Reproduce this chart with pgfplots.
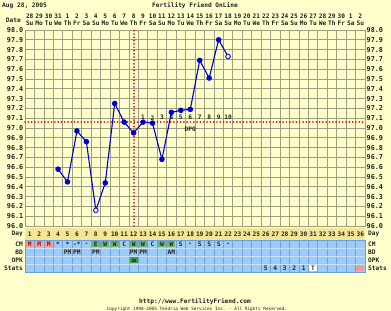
\documentclass[border=0pt]{standalone}
\usepackage{fontspec}
\usepackage{pgfplots}
\pgfplotsset{compat=1.18}
\newfontfamily\pix{DejaVu Sans Mono}
\newcommand\pixfont{\pix\bfseries\fontsize{6.2}{7}\selectfont}
\newcommand\ylfont{\pix\bfseries\fontsize{6.8}{8}\selectfont}
\newcommand\tinyfont{\pix\fontsize{4.4}{5}\selectfont}
\definecolor{bg}{HTML}{FFFFCC}
\definecolor{gridc}{HTML}{9E9E84}
\definecolor{dayrow}{HTML}{F5E596}
\definecolor{bandblue}{HTML}{9CCBF7}
\definecolor{bandgrid}{HTML}{6E9FD6}
\definecolor{bandsep}{HTML}{C9E1FA}
\definecolor{mpink}{HTML}{E8A0A0}
\definecolor{mred}{HTML}{A01010}
\definecolor{cmgreen}{HTML}{6DB56D}
\definecolor{opkgreen}{HTML}{3E9E3E}
\definecolor{statpink}{HTML}{F09A9A}
\definecolor{lineblue}{HTML}{0000CC}
\definecolor{redline}{HTML}{E01010}
\definecolor{txt}{HTML}{222222}
\pgfdeclareplotmark{cell}{\pgfpathrectangle{\pgfpoint{-4.1bp}{-3.4bp}}{\pgfpoint{8.2bp}{6.8bp}}\pgfusepathqfill}
\pgfplotsset{
  lbl/.style={draw=none, mark=none, nodes near coords, point meta=explicit symbolic,
    every node near coord/.append style={anchor=center, inner sep=0pt, font=\pixfont, text=txt}},
  reddots/.style={redline, line width=1.9bp, line cap=round, dash pattern=on 0.01bp off 3.3bp},
}
\begin{document}
\begin{tikzpicture}
\fill[bg] (-25bp,-85bp) rectangle (366bp,226bp);
\fill[dayrow] (0,-14bp) rectangle (340bp,-2bp);
\node[anchor=west, font=\pixfont, text=txt, inner sep=0] at (-23bp,220bp) {Aug 28, 2005};
\node[font=\pixfont, text=txt, inner sep=0] at (170bp,220bp) {Fertility Friend OnLine};
\node[anchor=east, font=\pixfont, text=txt, inner sep=0] at (-4bp,206bp) {Date};
\foreach \lab/\yy in {Day/-8,CM/-18,BD/-26,OPK/-34,Stats/-42}{
  \node[anchor=east, font=\pixfont, text=txt, inner sep=0] at (-2bp,\yy bp) {\lab};
  \node[anchor=west, font=\pixfont, text=txt, inner sep=0] at (343bp,\yy bp) {\lab};
}
\node[font=\pixfont, text=txt, inner sep=0] at (170bp,-75.7bp) {http://www.FertilityFriend.com};
\node[font=\tinyfont, text=txt, inner sep=0] at (172bp,-83bp) {Copyright 1998-2005 Tendria Web Services Inc. - All Rights Reserved.};

% ---- bottom band (CM, BD, OPK, Stats)
\begin{axis}[at={(0,-46bp)}, anchor=south west, scale only axis,
  width=340bp, height=32bp, xmin=0.5, xmax=36.5, ymin=0, ymax=32, clip=false,
  axis background/.style={fill=bandblue},
  xtick={0.5,1.5,...,36.5}, xticklabels={}, ytick={8,16,24}, yticklabels={},
  major tick length=0, xmajorgrids, ymajorgrids,
  x grid style={bandgrid, line width=0.7bp}, y grid style={bandsep, line width=0.7bp},
  axis line style={bandgrid, line width=0.7bp}]
\addplot[only marks, mark=cell, color=mpink] coordinates {(1,28)(2,28)(3,28)};
\addplot[only marks, mark=cell, color=cmgreen] coordinates {(8,28)(9,28)(10,28)(12,28)(13,28)(15,28)(16,28)};
\addplot[only marks, mark=cell, color=opkgreen] coordinates {(12,12)};
\addplot[only marks, mark=square*, mark size=1.1bp, color=black!75] coordinates {(12,12)};
\addplot[only marks, mark=cell, color=white] coordinates {(31,4)};
\addplot[only marks, mark=cell, color=statpink] coordinates {(36,4)};
\addplot[lbl, every node near coord/.append style={text=mred}] table[meta=lab] {
x y lab
1 28 M
2 28 M
3 28 M
};
\addplot[lbl] table[meta=lab] {
x y lab
4 28 *
5 28 *
6 28 -*
7 28 -
8 28 E
9 28 W
10 28 W
11 28 C
12 28 W
13 28 W
14 28 C
15 28 W
16 28 W
17 28 S
18 28 -
19 28 S
20 28 S
21 28 S
22 28 -
};
\addplot[lbl] table[meta=lab] {
x y lab
5 20 PM
6 20 PM
8 20 PM
12 20 PM
13 20 PM
16 20 AM
};
\addplot[lbl] table[meta=lab] {
x y lab
26 4 5
27 4 4
28 4 3
29 4 2
30 4 1
31 4 T
};
\end{axis}

% ---- top/right labels
\begin{axis}[at={(0,0)}, anchor=south west, scale only axis,
  width=340bp, height=196bp, xmin=0.5, xmax=36.5, ymin=96, ymax=98,
  axis x line*=top, axis y line*=right, axis line style={draw=none},
  major tick length=0, xtick={1,...,36},
  xticklabels={{28\\Su},{29\\Mo},{30\\Tu},{31\\We},{1\\Th},{2\\Fr},{3\\Sa},{4\\Su},{5\\Mo},{6\\Tu},{7\\We},{8\\Th},{9\\Fr},{10\\Sa},{11\\Su},{12\\Mo},{13\\Tu},{14\\We},{15\\Th},{16\\Fr},{17\\Sa},{18\\Su},{19\\Mo},{20\\Tu},{21\\We},{22\\Th},{23\\Fr},{24\\Sa},{25\\Su},{26\\Mo},{27\\Tu},{28\\We},{29\\Th},{30\\Fr},{1\\Sa},{2\\Su}},
  xticklabel style={align=center, font=\pixfont, text=txt, inner sep=0, anchor=center, yshift=10.5bp},
  ytick={96.0,96.1,96.2,96.3,96.4,96.5,96.6,96.7,96.8,96.9,97.0,97.1,97.2,97.3,97.4,97.5,97.6,97.7,97.8,97.9,98.0},
  yticklabel={\pgfmathprintnumber[fixed,fixed zerofill,precision=1,assume math mode=true]{\tick}},
  yticklabel style={font=\ylfont, text=txt, inner sep=0, anchor=west, xshift=1.5bp}]
\end{axis}

% ---- main chart
\begin{axis}[at={(0,0)}, anchor=south west, scale only axis,
  width=340bp, height=196bp, xmin=0.5, xmax=36.5, ymin=96, ymax=98, clip=false,
  xtick={1,...,36}, major tick length=0, minor tick length=0,
  minor xtick={1.5,2.5,...,35.5}, xminorgrids,
  ytick={96.0,96.1,96.2,96.3,96.4,96.5,96.6,96.7,96.8,96.9,97.0,97.1,97.2,97.3,97.4,97.5,97.6,97.7,97.8,97.9,98.0},
  ymajorgrids,
  grid style={gridc, line width=0.7bp}, minor grid style={gridc, line width=0.7bp},
  axis line style={gridc, line width=0.7bp},
  /pgf/number format/assume math mode=true,
  xticklabel style={font=\pixfont, text=txt, inner sep=0, anchor=center, yshift=-8bp},
  yticklabel={\pgfmathprintnumber[fixed,fixed zerofill,precision=1,assume math mode=true]{\tick}},
  yticklabel style={font=\ylfont, text=txt, inner sep=0, anchor=east, xshift=-1.5bp}]
\addplot[reddots] coordinates {(12,96)(12,98)};
\addplot[reddots] coordinates {(0.5,97.06)(36.5,97.06)};
\addplot[lbl] table[meta=lab] {
x y lab
13 97.105 1
14 97.105 2
15 97.105 3
16 97.105 4
17 97.105 5
18 97.105 6
19 97.105 7
20 97.105 8
21 97.105 9
22 97.105 10
18 96.99 DPO
};
\addplot[lineblue, line width=1.1bp, mark=*, mark size=2.2bp, mark options={fill=lineblue, draw=lineblue}] table {
x y
4 96.58
5 96.45
6 96.97
7 96.86
8 96.16
9 96.44
10 97.25
11 97.06
12 96.95
13 97.06
14 97.05
15 96.68
16 97.16
17 97.18
18 97.19
19 97.69
20 97.51
21 97.90
22 97.73
};
\addplot[only marks, mark=*, mark size=2.1bp, mark options={fill=white, draw=lineblue!70!gray, line width=0.6bp}] coordinates {(8,96.16)(22,97.73)};
\end{axis}
\pgfresetboundingbox
\path[use as bounding box] (-25bp,-85bp) rectangle (366bp,226bp);
\end{tikzpicture}
\end{document}
